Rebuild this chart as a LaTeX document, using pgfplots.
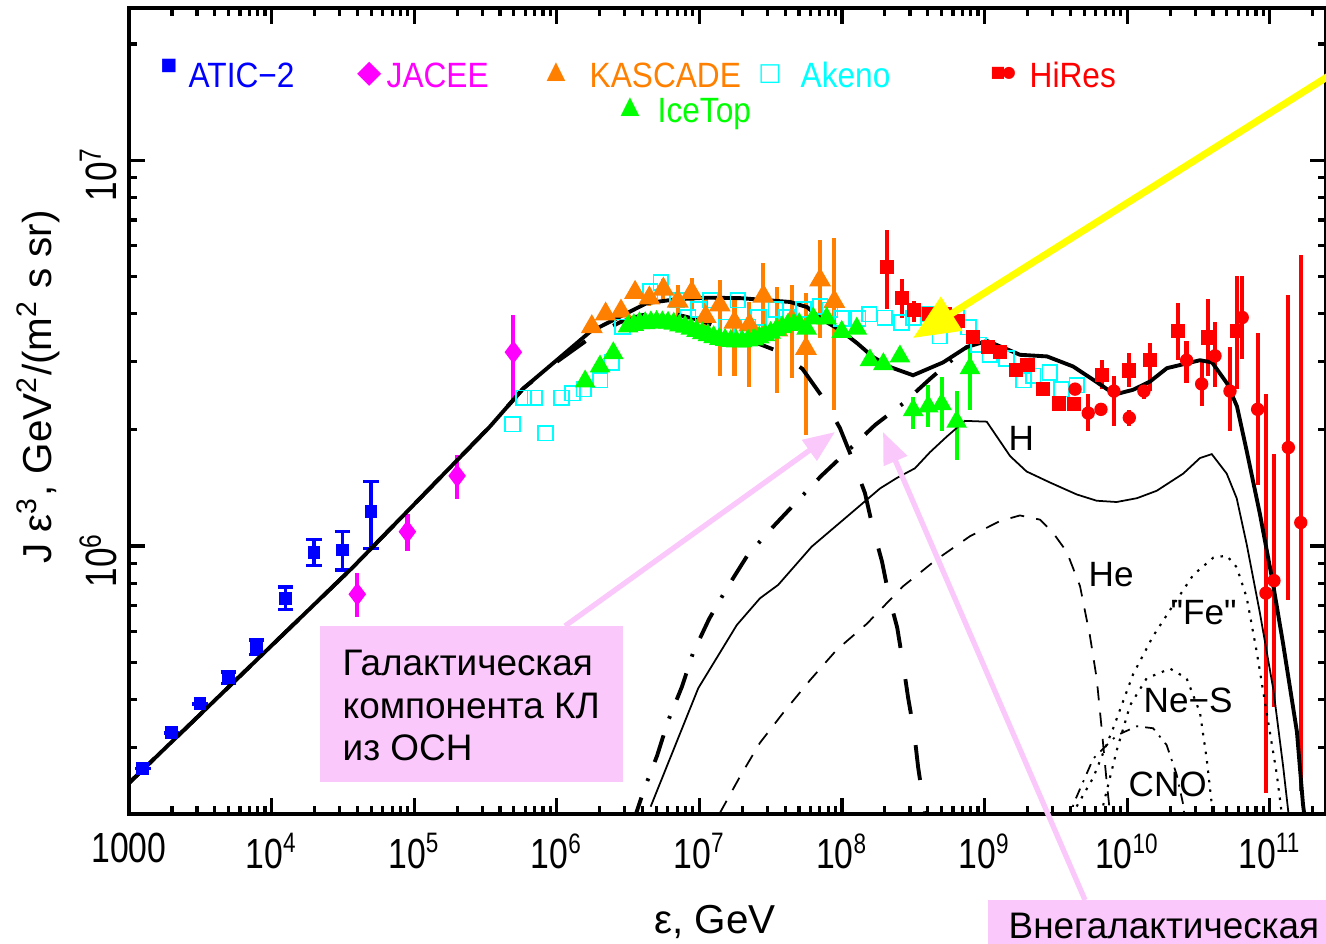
\documentclass[border=0pt]{standalone}
\usepackage{fontspec}
\setmainfont{Liberation Sans}
\newfontfamily\cond[FakeStretch=0.8]{Liberation Sans}
\newfontfamily\legf[FakeStretch=0.9]{Liberation Sans}
\newfontfamily\sym{DejaVu Sans}
\usepackage{pgfplots}
\pgfplotsset{compat=1.18}
\usetikzlibrary{arrows.meta}
\definecolor{aticblue}{RGB}{0,0,255}
\definecolor{jacee}{RGB}{255,0,255}
\definecolor{kasc}{RGB}{255,128,0}
\definecolor{akeno}{RGB}{0,255,255}
\definecolor{icetop}{RGB}{0,255,0}
\definecolor{hires}{RGB}{255,0,0}
\definecolor{pinkc}{RGB}{250,200,250}
\definecolor{yel}{RGB}{255,255,0}
\begin{document}
\begin{tikzpicture}
\useasboundingbox (-1.29,-1.29) rectangle (11.97,8.14);
\clip (-1.29,-1.29) rectangle (11.97,8.14);
\begin{axis}[
  at={(0,0)}, anchor=south west,
  scale only axis, width=11.97cm, height=8.06cm,
  xmode=log, ymode=log,
  xmin=1000, xmax=2.48e11, ymin=2.02e5, ymax=2.48e7,
  axis line style={line width=1pt},
  tick align=inside, tick pos=both,
  every tick/.style={line width=0.9pt, black},
  major tick length=0.16cm, minor tick length=0.08cm,
  xtick={1e3,1e4,1e5,1e6,1e7,1e8,1e9,1e10,1e11},
  xticklabels={1000,10\textsuperscript{4},10\textsuperscript{5},10\textsuperscript{6},10\textsuperscript{7},10\textsuperscript{8},10\textsuperscript{9},10\textsuperscript{10},10\textsuperscript{11}},
  minor xtick={2e3,3e3,4e3,5e3,6e3,7e3,8e3,9e3,2e4,3e4,4e4,5e4,6e4,7e4,8e4,9e4,2e5,3e5,4e5,5e5,6e5,7e5,8e5,9e5,2e6,3e6,4e6,5e6,6e6,7e6,8e6,9e6,2e7,3e7,4e7,5e7,6e7,7e7,8e7,9e7,2e8,3e8,4e8,5e8,6e8,7e8,8e8,9e8,2e9,3e9,4e9,5e9,6e9,7e9,8e9,9e9,2e10,3e10,4e10,5e10,6e10,7e10,8e10,9e10,2e11},
  ytick={1e6,1e7},
  yticklabels={10\textsuperscript{6},10\textsuperscript{7}},
  minor ytick={3e5,4e5,5e5,6e5,7e5,8e5,9e5,2e6,3e6,4e6,5e6,6e6,7e6,8e6,9e6,2e7},
  xticklabel style={font=\cond\fontsize{12}{14}\selectfont, yshift=-2pt},
  yticklabel style={font=\cond\fontsize{12.5}{14}\selectfont, rotate=90, anchor=south, xshift=-4pt},
  xlabel={ε, GeV},
  ylabel={J ε\textsuperscript{3}, GeV\textsuperscript{2}/(m\textsuperscript{2} s sr)},
  every axis x label/.style={at={(axis description cs:0.4896,-0.134)}, anchor=center, font=\fontsize{11.5}{13}\selectfont},
  every axis y label/.style={at={(axis description cs:-0.076,0.530)}, rotate=90, anchor=center, font=\fontsize{11.5}{13}\selectfont},
]
% ---------- Akeno ----------
\addplot[only marks, mark=square, mark size=2.1pt, mark options={draw=akeno, fill=none, line width=0.5pt}] coordinates {
(4.91e5,2.07e6) (5.82e5,2.42e6) (7.03e5,2.42e6) (8.36e5,1.96e6) (1.08e6,2.42e6) (1.29e6,2.49e6) (1.55e6,2.55e6) (2.01e6,2.69e6) (2.43e6,2.99e6) (2.89e6,3.70e6) (4.51e6,4.56e6) (5.36e6,4.82e6) (6.97e6,4.34e6) (8.32e6,3.91e6) (9.86e6,4.10e6) (1.19e7,4.34e6) (1.55e7,3.70e6) (1.86e7,4.34e6) (2.20e7,3.70e6) (2.60e7,3.91e6) (3.44e7,4.10e6) (4.09e7,3.91e6) (5.35e7,4.10e6) (7.02e7,4.17e6) (8.24e7,4.09e6) (9.95e7,3.89e6) (1.30e8,3.89e6) (1.55e8,3.99e6) (2.00e8,3.90e6) (2.62e8,3.79e6) (3.16e8,3.90e6) (4.07e8,3.99e6) (4.86e8,3.50e6) (6.37e8,3.90e6) (7.69e8,3.69e6) (9.04e8,3.32e6) (1.09e9,3.14e6) (1.43e9,3.06e6) (1.87e9,2.69e6) (2.19e9,2.76e6) (2.87e9,2.82e6) (3.47e9,2.55e6) (4.43e9,2.61e6)
};
% ---------- KASCADE ----------
\addplot[only marks, mark=triangle*, mark size=3.2pt, color=kasc,
  error bars/.cd, y dir=both, y explicit, error mark=none, error bar style={line width=1.2pt, kasc}]
  table[x=x, y=y, y error plus=ep, y error minus=em] {
x y ep em
1.76e6 3.70e6 1.1e5 1.1e5
2.20e6 3.99e6 1.2e5 1.2e5
2.82e6 4.06e6 1.2e5 1.2e5
3.54e6 4.54e6 1.6e5 1.6e5
4.46e6 4.39e6 2.1e5 2.1e5
5.59e6 4.63e6 2.9e5 2.7e5
7.05e6 4.31e6 4.3e5 4.6e5
8.84e6 4.54e6 4.0e5 4.5e5
1.107e7 3.93e6 4.6e5 4.1e5
1.39e7 4.21e6 6.8e5 1.46e6
1.76e7 3.80e6 5.4e5 1.05e6
2.24e7 3.74e6 5.6e5 1.15e6
2.81e7 4.44e6 9.6e5 1.02e6
3.52e7 3.63e6 1.07e6 1.14e6
4.44e7 3.85e6 8.9e5 1.13e6
5.59e7 3.25e6 1.27e6 1.31e6
7.02e7 4.89e6 1.32e6 1.44e6
8.84e7 4.30e6 1.97e6 2.05e6
};
% ---------- IceTop ----------
\addplot[only marks, mark=triangle*, mark size=3pt, color=icetop,
  error bars/.cd, y dir=both, y explicit, error mark=none, error bar style={line width=1.2pt, icetop}]
  table[x=x, y=y, y error plus=ep, y error minus=em] {
x y ep em
1.58e6 2.67e6 0 0
2.01e6 2.92e6 0 0
2.49e6 3.16e6 0 0
3.16e6 3.71e6 0 0
3.47e6 3.74e6 0 0
3.80e6 3.78e6 0 0
4.17e6 3.78e6 0 0
4.57e6 3.80e6 0 0
5.01e6 3.81e6 0 0
5.50e6 3.80e6 0 0
6.03e6 3.79e6 0 0
6.61e6 3.77e6 0 0
7.24e6 3.73e6 0 0
7.94e6 3.70e6 0 0
8.71e6 3.66e6 0 0
9.55e6 3.61e6 0 0
1.047e7 3.56e6 0 0
1.148e7 3.52e6 0 0
1.259e7 3.48e6 0 0
1.380e7 3.44e6 0 0
1.514e7 3.42e6 0 0
1.660e7 3.40e6 0 0
1.820e7 3.39e6 0 0
1.995e7 3.39e6 0 0
2.188e7 3.41e6 0 0
2.399e7 3.43e6 0 0
2.630e7 3.47e6 0 0
2.884e7 3.52e6 0 0
3.162e7 3.57e6 0 0
3.467e7 3.63e6 0 0
3.802e7 3.69e6 0 0
4.169e7 3.74e6 0 0
4.571e7 3.75e6 0 0
5.012e7 3.76e6 0 0
5.65e7 3.66e6 0 0
6.29e7 3.89e6 0 0
7.81e7 3.89e6 0 0
9.96e7 3.59e6 0 0
1.27e8 3.66e6 0 0
1.57e8 3.03e6 0 0
1.95e8 2.96e6 0 0
2.55e8 3.10e6 0 0
3.16e8 2.25e6 1.9e5 2.4e5
4.03e8 2.30e6 3.1e5 2.7e5
5.00e8 2.33e6 4.1e5 3.4e5
6.37e8 2.10e6 4.2e5 4.3e5
7.90e8 2.89e6 3.9e5 6.4e5
};
% ---------- HiRes squares ----------
\addplot[only marks, mark=square*, mark size=1.8pt, color=hires,
  error bars/.cd, y dir=both, y explicit, error mark=none, error bar style={line width=1.2pt, hires}]
  table[x=x, y=y, y error plus=ep, y error minus=em] {
x y ep em
2.06e8 5.30e6 1.29e6 1.18e6
2.62e8 4.39e6 5.3e5 4.8e5
3.21e8 4.09e6 2.2e5 2.9e5
4.09e8 4.00e6 1.4e5 1.4e5
5.27e8 4.00e6 0 0
6.47e8 3.84e6 0 0
8.26e8 3.49e6 0 0
1.05e9 3.28e6 0 0
1.28e9 3.19e6 0 0
1.65e9 2.86e6 0 0
2.00e9 2.94e6 0 0
2.55e9 2.55e6 0 0
3.32e9 2.34e6 0 0
4.26e9 2.33e6 0 0
6.62e9 2.78e6 2.5e5 2.3e5
1.035e10 2.85e6 3.2e5 2.7e5
1.445e10 3.03e6 3.3e5 5.1e5
2.28e10 3.60e6 6.7e5 5.7e5
3.67e10 3.47e6 8.9e5 7.1e5
5.86e10 3.60e6 1.40e6 1.05e6
};
% ---------- HiRes circles ----------
\addplot[only marks, mark=*, mark size=1.7pt, color=hires,
  error bars/.cd, y dir=both, y explicit, error mark=none, error bar style={line width=1.2pt, hires}]
  table[x=x, y=y, y error plus=ep, y error minus=em] {
x y ep em
4.31e9 2.55e6 0 0
5.33e9 2.21e6 2.6e5 2.2e5
6.55e9 2.26e6 0 0
8.07e9 2.52e6 2.4e5 4.7e5
1.035e10 2.15e6 1.0e5 1.0e5
1.31e10 2.52e6 1.2e5 1.2e5
2.61e10 3.03e6 3.7e5 3.9e5
3.33e10 2.63e6 4.0e5 3.3e5
4.13e10 3.11e6 6.9e5 5.3e5
5.26e10 2.52e6 7.6e5 5.3e5
6.41e10 3.91e6 1.09e6 8.5e5
8.22e10 2.26e6 1.30e6 8.2e5
9.40e10 7.55e5 1.715e6 5.26e5
1.07e11 8.13e5 9.17e5 4.30e5
1.35e11 1.80e6 2.67e6 1.074e6
1.65e11 1.15e6 4.53e6 9.18e5
};
% ---------- ATIC-2 ----------
\addplot[only marks, mark=square*, mark size=1.6pt, color=aticblue,
  error bars/.cd, y dir=both, y explicit, error bar style={line width=1pt, aticblue},
  error mark options={rotate=90, mark size=2.2pt, line width=1pt, aticblue}]
  table[x=x, y=y, y error plus=ep, y error minus=em] {
x y ep em
1.25e3 2.65e5 0 0
1.99e3 3.28e5 0 0
3.15e3 3.90e5 0 0
4.97e3 4.56e5 1.6e4 1.6e4
7.85e3 5.47e5 2.4e4 2.4e4
1.256e4 7.32e5 5.0e4 4.7e4
1.98e4 9.63e5 7.7e4 7.4e4
3.15e4 9.76e5 1.14e5 1.09e5
4.98e4 1.227e6 2.41e5 2.41e5
};
% ---------- JACEE ----------
\addplot[only marks, mark=diamond*, mark size=3pt, color=jacee,
  error bars/.cd, y dir=both, y explicit, error mark=none, error bar style={line width=1.2pt, jacee}]
  table[x=x, y=y, y error plus=ep, y error minus=em] {
x y ep em
3.99e4 7.50e5 9.9e4 9.4e4
8.96e4 1.089e6 1.21e5 1.17e5
2.0e5 1.52e6 2.0e5 2.0e5
4.96e5 3.18e6 7.8e5 7.9e5
};
% ---------- components ----------
% H
\addplot[black, line width=0.5pt] coordinates {
(4.55e6,2.11e5) (9.82e6,4.28e5) (1.83e7,6.24e5) (2.66e7,7.32e5) (3.57e7,7.93e5) (6.13e7,9.96e5) (1.08e8,1.19e6) (1.85e8,1.41e6) (2.42e8,1.50e6) (3.25e8,1.59e6) (4.14e8,1.75e6) (5.42e8,1.92e6) (7.28e8,2.11e6) (1.035e9,2.10e6) (1.51e9,1.71e6) (1.97e9,1.56e6) (2.88e9,1.46e6) (4.43e9,1.36e6) (6.11e9,1.31e6) (8.43e9,1.30e6) (1.17e10,1.33e6) (1.61e10,1.39e6) (2.47e10,1.54e6) (3.24e10,1.69e6) (3.92e10,1.73e6) (4.99e10,1.54e6) (5.86e10,1.33e6) (6.89e10,1.01e6) (8.53e10,6.70e5) (1.06e11,4.24e5) (1.24e11,2.69e5) (1.35e11,2.04e5) (1.40e11,1.80e5)
};
% He
\addplot[black, line width=0.5pt, dash pattern=on 4pt off 3.5pt] coordinates {
(1.39e7,2.03e5) (1.92e7,2.52e5) (2.66e7,3.09e5) (3.86e7,3.69e5) (6.00e7,4.50e5) (9.18e7,5.38e5) (1.49e8,6.28e5) (2.69e8,7.87e5) (4.61e8,9.23e5) (7.90e8,1.06e6) (1.28e9,1.16e6) (1.77e9,1.20e6) (2.45e9,1.17e6) (3.03e9,1.08e6) (3.77e9,9.66e5) (4.67e9,7.87e5) (5.48e9,5.85e5) (6.11e9,4.54e5) (6.62e9,3.37e5) (7.18e9,2.45e5) (7.57e9,2.04e5) (7.8e9,1.8e5)
};
% CNO
\addplot[black, line width=0.5pt, dash pattern=on 3pt off 2pt on 0.6pt off 2pt] coordinates {
(4.0e9,1.9e5) (4.19e9,2.14e5) (5.78e9,2.81e5) (8.44e9,3.23e5) (1.17e10,3.41e5) (1.52e10,3.37e5) (1.89e10,3.05e5) (2.22e10,2.56e5) (2.47e10,2.14e5) (2.55e10,1.9e5)
};
% Ne-S
\addplot[black, line width=0.6pt, dash pattern=on 0.7pt off 2pt] coordinates {
(6.5e9,1.9e5) (6.81e9,2.14e5) (8.44e9,2.95e5) (1.05e10,3.87e5) (1.37e10,4.54e5) (2.00e10,4.81e5) (2.61e10,4.54e5) (3.24e10,3.70e5) (3.61e10,2.81e5) (3.92e10,2.14e5) (4.0e10,1.9e5)
};
% Fe
\addplot[black, line width=0.6pt, dash pattern=on 0.7pt off 2pt] coordinates {
(4.0e9,1.9e5) (4.19e9,2.04e5) (5.78e9,2.51e5) (7.98e9,3.37e5) (1.10e10,4.65e5) (1.52e10,5.84e5) (2.10e10,7.02e5) (2.91e10,8.42e5) (4.02e10,9.33e5) (4.99e10,9.44e5) (5.86e10,8.81e5) (6.89e10,7.35e5) (8.09e10,5.33e5) (9.51e10,3.70e5) (1.12e11,2.56e5) (1.21e11,2.04e5) (1.25e11,1.85e5)
};
% extragalactic (dash-dot)
\addplot[black, line width=1.1pt, dash pattern=on 8pt off 5pt on 0.8pt off 5pt] coordinates {
(3.4e6,1.9e5) (3.59e6,2.02e5) (4.08e6,2.33e5) (5.05e6,2.86e5) (6.03e6,3.52e5) (7.55e6,4.32e5) (9.02e6,5.28e5) (1.17e7,6.47e5) (1.56e7,7.78e5) (2.16e7,9.42e5) (3.18e7,1.107e6) (4.79e7,1.30e6) (7.16e7,1.52e6) (1.09e8,1.76e6) (1.71e8,2.06e6) (2.68e8,2.34e6) (4.14e8,2.71e6) (5.71e8,3.00e6) (7.53e8,3.28e6)
};
% galactic (long dash)
\addplot[black, line width=1.1pt, dash pattern=on 10pt off 9pt] coordinates {
(1e3,2.43e5) (3.74e4,8.83e5) (3.40e5,2.04e6) (5.82e5,2.56e6) (9.98e5,3.00e6) (1.71e6,3.46e6) (2.77e6,3.80e6) (3.89e6,3.96e6) (5.28e6,4.02e6) (6.75e6,3.99e6) (1.01e7,3.85e6) (1.39e7,3.67e6) (1.96e7,3.48e6) (3.39e7,3.22e6) (5.27e7,2.88e6) (7.36e7,2.42e6) (9.68e7,2.02e6) (1.19e8,1.67e6) (1.45e8,1.37e6) (1.65e8,1.11e6) (1.91e8,9.10e5) (2.14e8,7.38e5) (2.44e8,6.14e5) (2.69e8,4.92e5) (2.91e8,4.04e5) (3.21e8,3.28e5) (3.42e8,2.67e5) (3.83e8,2.02e5) (3.95e8,1.85e5)
};
% total
\addplot[black, line width=1.1pt] coordinates {
(1e3,2.43e5) (3.74e4,8.83e5) (3.40e5,2.04e6) (5.82e5,2.56e6) (9.98e5,3.03e6) (1.71e6,3.59e6) (2.63e6,3.89e6) (4.27e6,4.26e6) (6.93e6,4.36e6) (1.125e7,4.40e6) (1.93e7,4.39e6) (4.32e7,4.29e6) (5.69e7,4.16e6) (7.36e7,3.85e6) (9.68e7,3.63e6) (1.27e8,3.36e6) (1.65e8,3.09e6) (2.17e8,2.91e6) (3.15e8,2.77e6) (5.11e8,2.99e6) (7.53e8,3.28e6) (1.04e9,3.40e6) (1.51e9,3.21e6) (1.77e9,3.13e6) (2.74e9,3.10e6) (4.17e9,2.92e6) (5.75e9,2.70e6) (8.20e9,2.47e6) (1.10e10,2.54e6) (1.45e10,2.67e6) (1.90e10,2.89e6) (3.24e10,3.03e6) (3.94e10,2.99e6) (5.01e10,2.64e6) (5.89e10,2.30e6) (6.92e10,1.75e6) (8.53e10,1.21e6) (1.05e11,8.04e5) (1.24e11,5.58e5) (1.55e11,3.30e5) (1.71e11,2.14e5) (1.82e11,1.78e5)
};
\end{axis}
% ---------- legend ----------
\node[text=aticblue, font=\sym\fontsize{5}{5}\selectfont, inner sep=0pt] at (0.40,7.48) {■};
\node[anchor=base west, text=aticblue, font=\legf\fontsize{10}{12}\selectfont, inner sep=0pt] at (0.59,7.27) {ATIC−2};
\node[text=jacee, font=\sym\fontsize{9}{9}\selectfont, inner sep=0pt] at (2.41,7.40) {◆};
\node[anchor=base west, text=jacee, font=\legf\fontsize{10}{12}\selectfont, inner sep=0pt] at (2.57,7.27) {JACEE};
\node[text=kasc, font=\sym\fontsize{7}{7}\selectfont, inner sep=0pt] at (4.27,7.42) {▲};
\node[anchor=base west, text=kasc, font=\legf\fontsize{10}{12}\selectfont, inner sep=0pt] at (4.60,7.27) {KASCADE};
\node[text=akeno, font=\sym\fontsize{7}{7}\selectfont, inner sep=0pt] at (6.41,7.40) {□};
\node[anchor=base west, text=akeno, font=\legf\fontsize{10}{12}\selectfont, inner sep=0pt] at (6.71,7.27) {Akeno};
\node[text=hires, font=\sym\fontsize{4.5}{5}\selectfont, inner sep=0pt] at (8.69,7.41) {■};
\node[text=hires, font=\sym\fontsize{4.5}{5}\selectfont, inner sep=0pt] at (8.80,7.41) {●};
\node[anchor=base west, text=hires, font=\legf\fontsize{10}{12}\selectfont, inner sep=0pt] at (9.00,7.27) {HiRes};
\node[text=icetop, font=\sym\fontsize{7}{7}\selectfont, inner sep=0pt] at (5.01,7.07) {▲};
\node[anchor=base west, text=icetop, font=\legf\fontsize{10}{12}\selectfont, inner sep=0pt] at (5.28,6.92) {IceTop};
% ---------- component labels ----------
\node[anchor=base west, font=\fontsize{10}{12}\selectfont, inner sep=0pt] at (8.79,3.64) {H};
\node[anchor=base west, font=\fontsize{10}{12}\selectfont, inner sep=0pt] at (9.59,2.28) {He};
\node[anchor=base west, font=\fontsize{10}{12}\selectfont, inner sep=0pt] at (10.41,1.90) {\textquotedbl Fe\textquotedbl};
\node[anchor=base west, font=\fontsize{10}{12}\selectfont, inner sep=0pt] at (10.14,1.02) {Ne−S};
\node[anchor=base west, font=\fontsize{10}{12}\selectfont, inner sep=0pt] at (9.99,0.18) {CNO};
% ---------- annotations ----------
\fill[pinkc] (1.91,0.32) rectangle (4.94,1.88);
\node[anchor=base west, font=\fontsize{10.5}{12}\selectfont, inner sep=0pt] at (2.13,1.39) {Галактическая};
\node[anchor=base west, font=\fontsize{10.5}{12}\selectfont, inner sep=0pt] at (2.13,0.96) {компонента КЛ};
\node[anchor=base west, font=\fontsize{10.5}{12}\selectfont, inner sep=0pt] at (2.13,0.54) {из ОСН};
\draw[pinkc, line width=1.5pt, -{Triangle[length=9pt,width=7pt]}] (4.36,1.88) -- (7.06,3.82);
\fill[pinkc] (8.59,-1.50) rectangle (12.2,-0.86);
\node[anchor=base west, font=\fontsize{10.5}{12}\selectfont, inner sep=0pt] at (8.79,-1.24) {Внегалактическая};
\draw[pinkc, line width=1.5pt, -{Triangle[length=9pt,width=7pt]}] (9.56,-0.86) -- (7.54,3.82);
\draw[yel, line width=2pt, -{Triangle[length=13pt,width=11pt]}] (12.71,7.83) -- (7.84,4.76);
\end{tikzpicture}
\end{document}
